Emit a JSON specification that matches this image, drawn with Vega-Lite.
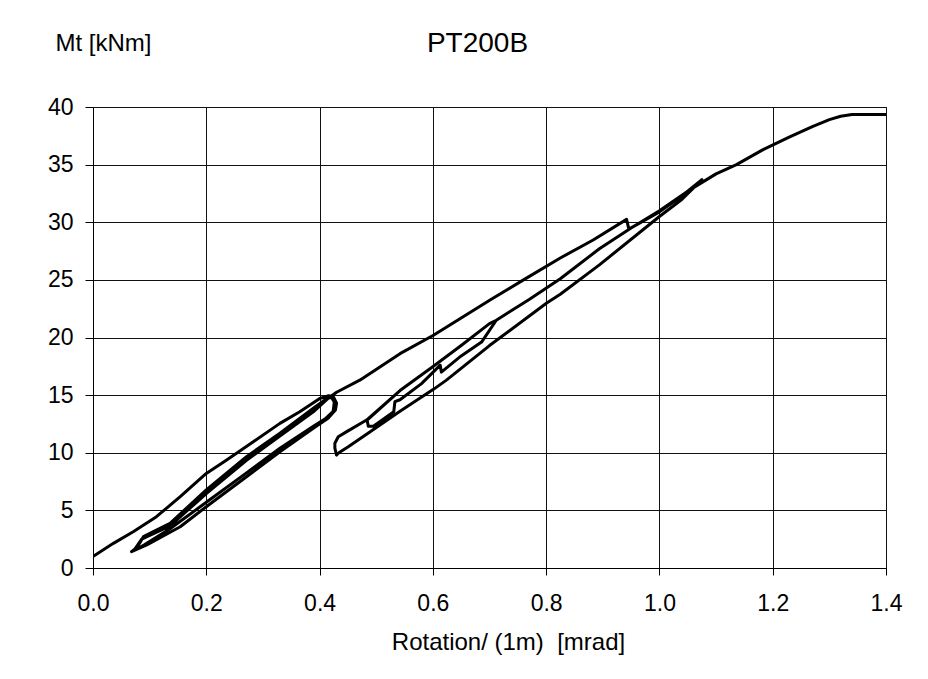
{
  "$schema": "https://vega.github.io/schema/vega-lite/v6.json",
  "width": 793,
  "height": 461,
  "autosize": {"type": "none"},
  "padding": {"left": 93, "top": 107, "right": 42, "bottom": 111},
  "background": "white",
  "title": {"text": "PT200B", "font": "Liberation Sans", "fontSize": 28, "fontWeight": "normal", "color": "black", "anchor": "middle", "dx": -12, "offset": -27},
  "config": {
    "view": {"stroke": "black", "strokeWidth": 1},
    "axis": {
      "labelFont": "Liberation Sans", "labelFontSize": 23, "labelColor": "black",
      "titleFont": "Liberation Sans", "titleFontSize": 24, "titleFontWeight": "normal", "titleColor": "black",
      "domainColor": "black", "tickColor": "black", "gridColor": "#111", "gridWidth": 1, "gridOpacity": 1
    }
  },
  "data": {"values": [
    {"i":1,"x":0.0,"y":1.0},{"i":2,"x":0.036,"y":2.14},{"i":3,"x":0.071,"y":3.15},{"i":4,"x":0.112,"y":4.45},{"i":5,"x":0.154,"y":6.19},{"i":6,"x":0.2,"y":8.2},{"i":7,"x":0.236,"y":9.37},{"i":8,"x":0.283,"y":10.96},{"i":9,"x":0.33,"y":12.55},{"i":10,"x":0.365,"y":13.56},{"i":11,"x":0.401,"y":14.72},{"i":12,"x":0.416,"y":14.95},
    {"i":13,"x":0.425,"y":14.8},{"i":14,"x":0.43,"y":14.3},{"i":15,"x":0.428,"y":13.7},{"i":16,"x":0.415,"y":13.0},{"i":17,"x":0.389,"y":12.12},{"i":18,"x":0.33,"y":10.09},{"i":19,"x":0.271,"y":7.92},{"i":20,"x":0.2,"y":5.32},{"i":21,"x":0.154,"y":3.58},{"i":22,"x":0.095,"y":2.0},{"i":23,"x":0.068,"y":1.42},
    {"i":24,"x":0.078,"y":1.8},{"i":25,"x":0.089,"y":2.72},{"i":26,"x":0.136,"y":3.88},{"i":27,"x":0.2,"y":6.77},{"i":28,"x":0.271,"y":9.66},{"i":29,"x":0.33,"y":11.69},{"i":30,"x":0.389,"y":13.86},{"i":31,"x":0.413,"y":14.72},{"i":32,"x":0.421,"y":14.8},
    {"i":33,"x":0.426,"y":14.4},{"i":34,"x":0.424,"y":13.6},{"i":35,"x":0.41,"y":12.95},{"i":36,"x":0.389,"y":12.3},{"i":37,"x":0.33,"y":10.4},{"i":38,"x":0.271,"y":8.25},{"i":39,"x":0.2,"y":5.7},{"i":40,"x":0.136,"y":3.4},{"i":41,"x":0.09,"y":2.0},{"i":42,"x":0.072,"y":1.5},
    {"i":43,"x":0.086,"y":2.5},{"i":44,"x":0.136,"y":3.65},{"i":45,"x":0.2,"y":6.45},{"i":46,"x":0.271,"y":9.35},{"i":47,"x":0.33,"y":11.45},{"i":48,"x":0.389,"y":13.55},{"i":49,"x":0.416,"y":14.75},
    {"i":50,"x":0.43,"y":15.25},{"i":51,"x":0.471,"y":16.3},{"i":52,"x":0.542,"y":18.6},{"i":53,"x":0.601,"y":20.2},{"i":54,"x":0.701,"y":23.25},{"i":55,"x":0.76,"y":25.0},{"i":56,"x":0.825,"y":26.9},{"i":57,"x":0.883,"y":28.46},{"i":58,"x":0.942,"y":30.25},{"i":59,"x":0.946,"y":29.4},{"i":60,"x":1.0,"y":30.9},{"i":61,"x":1.04,"y":32.3},{"i":62,"x":1.075,"y":33.7},
    {"i":63,"x":1.04,"y":32.0},{"i":64,"x":1.0,"y":30.5},{"i":65,"x":0.894,"y":26.3},{"i":66,"x":0.825,"y":23.75},{"i":67,"x":0.801,"y":23.0},{"i":68,"x":0.7,"y":19.3},{"i":69,"x":0.624,"y":16.3},{"i":70,"x":0.601,"y":15.5},{"i":71,"x":0.542,"y":13.6},{"i":72,"x":0.49,"y":11.85},{"i":73,"x":0.45,"y":10.5},{"i":74,"x":0.434,"y":10.0},{"i":75,"x":0.43,"y":9.8},
    {"i":76,"x":0.427,"y":10.4},{"i":77,"x":0.427,"y":10.82},{"i":78,"x":0.433,"y":11.39},{"i":79,"x":0.448,"y":11.83},{"i":80,"x":0.483,"y":12.84},{"i":81,"x":0.542,"y":15.4},{"i":82,"x":0.601,"y":17.5},{"i":83,"x":0.65,"y":19.3},{"i":84,"x":0.7,"y":21.2},{"i":85,"x":0.712,"y":21.5},
    {"i":86,"x":0.686,"y":19.6},{"i":87,"x":0.65,"y":18.4},{"i":88,"x":0.615,"y":17.0},{"i":89,"x":0.613,"y":17.6},{"i":90,"x":0.58,"y":16.0},{"i":91,"x":0.542,"y":14.6},{"i":92,"x":0.533,"y":14.43},{"i":93,"x":0.531,"y":13.56},{"i":94,"x":0.495,"y":12.3},{"i":95,"x":0.486,"y":12.3},{"i":96,"x":0.484,"y":12.84},
    {"i":97,"x":0.542,"y":15.4},{"i":98,"x":0.601,"y":17.5},{"i":99,"x":0.65,"y":19.3},{"i":100,"x":0.7,"y":21.2},{"i":101,"x":0.712,"y":21.5},
    {"i":102,"x":0.77,"y":23.3},{"i":103,"x":0.825,"y":25.1},{"i":104,"x":0.894,"y":27.7},{"i":105,"x":0.95,"y":29.5},{"i":106,"x":1.0,"y":31.0},{"i":107,"x":1.05,"y":32.7},{"i":108,"x":1.1,"y":34.2},{"i":109,"x":1.136,"y":35.0},{"i":110,"x":1.183,"y":36.3},{"i":111,"x":1.23,"y":37.4},{"i":112,"x":1.27,"y":38.3},{"i":113,"x":1.3,"y":38.9},{"i":114,"x":1.32,"y":39.2},{"i":115,"x":1.34,"y":39.35},{"i":116,"x":1.4,"y":39.35}
  ]},
  "mark": {"type": "line", "color": "black", "strokeWidth": 3, "strokeJoin": "round", "strokeCap": "round", "clip": true},
  "encoding": {
    "x": {"field": "x", "type": "quantitative",
      "scale": {"domain": [0, 1.4], "nice": false, "zero": false},
      "axis": {"values": [0, 0.2, 0.4, 0.6, 0.8, 1.0, 1.2, 1.4], "format": ".1f", "tickSize": 7, "labelPadding": 17, "labelFlush": false,
        "title": "Rotation/ (1m) \u00a0[mrad]", "titleAngle": 0, "titleX": 415, "titleY": 81, "titleAlign": "center", "titleBaseline": "alphabetic"}},
    "y": {"field": "y", "type": "quantitative",
      "scale": {"domain": [0, 40], "nice": false},
      "axis": {"values": [0, 5, 10, 15, 20, 25, 30, 35, 40], "tickSize": 8, "labelPadding": 12, "labelFlush": false,
        "title": "Mt [kNm]", "titleAngle": 0, "titleX": 10, "titleY": -57, "titleAlign": "center", "titleBaseline": "alphabetic"}},
    "order": {"field": "i", "type": "quantitative"}
  }
}
